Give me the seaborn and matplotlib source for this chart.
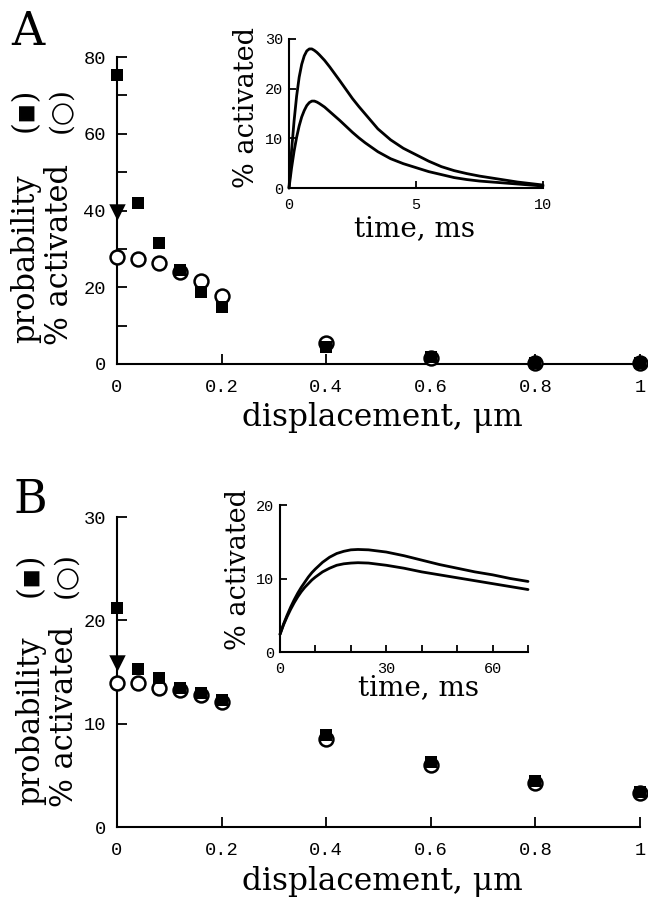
import matplotlib
matplotlib.use("Agg")
import matplotlib.pyplot as plt
import seaborn as sns

# ---------------------------
# Data
# ---------------------------
disp = [0, 0.04, 0.08, 0.12, 0.16, 0.2, 0.4, 0.6, 0.8, 1.0]

# panel A: probability (squares) and % activated (open circles)
prob_A = [75.3, 42.0, 31.5, 24.5, 18.8, 14.8, 4.5, 1.8, 0.3, 0.2]
act_A = [27.8, 27.4, 26.2, 24.0, 21.6, 17.7, 5.6, 1.5, 0.3, 0.2]
tri_A = [39.5]

# panel B
prob_B = [21.2, 15.3, 14.4, 13.5, 13.0, 12.3, 8.9, 6.3, 4.5, 3.4]
act_B = [13.9, 13.9, 13.5, 13.3, 12.8, 12.1, 8.5, 6.0, 4.3, 3.3]
tri_B = [15.9]
tri_x = [0]

# inset A: time course, ms
t_A = [0, 0.1, 0.2, 0.3, 0.4, 0.5, 0.6, 0.7, 0.8, 0.9, 1.0, 1.1, 1.2, 1.4, 1.6, 1.8,
       2.0, 2.25, 2.5, 2.75, 3.0, 3.5, 4.0, 4.5, 5.0, 5.5, 6.0, 6.5, 7.0, 7.5, 8.0,
       8.5, 9.0, 9.5, 10]
upper_A = [0, 7.5, 13.5, 18.5, 22.3, 24.9, 26.6, 27.6, 28.0, 28.0, 27.7, 27.3, 26.8,
           25.7, 24.4, 23.0, 21.6, 19.8, 18.0, 16.4, 14.9, 11.9, 9.7, 8.0, 6.7, 5.4,
           4.3, 3.5, 2.9, 2.4, 2.0, 1.6, 1.2, 0.9, 0.6]
lower_A = [0, 4.0, 7.4, 10.2, 12.5, 14.3, 15.6, 16.6, 17.2, 17.5, 17.5, 17.3, 17.0,
           16.3, 15.4, 14.5, 13.6, 12.4, 11.2, 10.1, 9.1, 7.3, 5.9, 4.9, 4.1, 3.3,
           2.7, 2.1, 1.7, 1.4, 1.2, 1.0, 0.8, 0.6, 0.4]

# inset B: time course, ms
t_B = [0, 1, 2, 3, 4, 5, 6, 7, 8, 9, 10, 12, 14, 16, 18, 20, 22, 25, 30, 35, 40,
       45, 50, 55, 60, 65, 70]
upper_B = [2.4, 3.8, 5.0, 6.1, 7.1, 8.0, 8.8, 9.5, 10.2, 10.8, 11.3, 12.2, 12.9,
           13.4, 13.7, 13.9, 13.95, 13.9, 13.6, 13.1, 12.5, 11.9, 11.4, 10.9, 10.5,
           10.0, 9.6]
lower_B = [2.4, 3.7, 4.8, 5.8, 6.7, 7.5, 8.2, 8.8, 9.3, 9.8, 10.2, 10.9, 11.4,
           11.8, 12.0, 12.1, 12.15, 12.1, 11.8, 11.4, 10.9, 10.5, 10.1, 9.7, 9.3,
           8.9, 8.5]

disp_ticks = [0, 0.2, 0.4, 0.6, 0.8, 1.0]
disp_labels = ["0", "0.2", "0.4", "0.6", "0.8", "1"]

# ---------------------------
# Style
# ---------------------------
sns.set_style("ticks")
plt.rcParams['font.family'] = ['Liberation Mono', 'DejaVu Sans Mono']
SERIF = ['DejaVu Serif', 'DejaVu Sans']

W, H = 648, 901
fig = plt.figure(figsize=(W / 100, H / 100), dpi=100)


def box(x0, y0, x1, y1):
    # pixel box -> figure fraction
    return [x0 / W, 1 - y1 / H, (x1 - x0) / W, (y1 - y0) / H]


def style_axes(ax, size, xpad, ypad):
    for s in ['top', 'right']:
        ax.spines[s].set_visible(False)
    for s in ['left', 'bottom']:
        ax.spines[s].set_linewidth(1.5)
        ax.spines[s].set_color('black')
    ax.tick_params(which='both', direction='in', length=7, width=1.3,
                   colors='black', labelsize=size)
    ax.tick_params(axis='x', pad=xpad)
    ax.tick_params(axis='y', pad=ypad)
    ax.set_xlabel("")
    ax.set_ylabel("")
    ax.set_facecolor('none')


def main_panel(rect, prob, act, tri, ylim, yticks, yminor):
    ax = fig.add_axes(rect)
    sns.scatterplot(x=disp, y=act, marker='o', s=100, color='white',
                    edgecolor='black', linewidth=1.8, ax=ax, clip_on=False, zorder=3)
    sns.scatterplot(x=disp, y=prob, marker='s', s=74, color='black',
                    edgecolor='black', linewidth=0, ax=ax, clip_on=False, zorder=4)
    sns.scatterplot(x=tri_x, y=tri, marker='v', s=140, color='black',
                    edgecolor='black', linewidth=0, ax=ax, clip_on=False, zorder=5)
    ax.set_xlim(0, 1)
    ax.set_ylim(*ylim)
    ax.set_xticks(disp_ticks)
    ax.set_xticklabels(disp_labels)
    ax.set_yticks(yticks)
    ax.set_yticks(yminor, minor=True)
    style_axes(ax, 13.5, 11, 8)
    return ax


def inset(rect, t, up, low, xlim, ylim, xticks, xminor, yticks):
    ax = fig.add_axes(rect)
    sns.lineplot(x=t, y=up, color='black', linewidth=2.0, ax=ax, clip_on=False)
    sns.lineplot(x=t, y=low, color='black', linewidth=2.0, ax=ax, clip_on=False)
    ax.set_xlim(*xlim)
    ax.set_ylim(*ylim)
    ax.set_xticks(xticks)
    ax.set_xticks(xminor, minor=True)
    ax.set_yticks(yticks)
    style_axes(ax, 11, 7, 4)
    ax.tick_params(which='both', length=5)
    return ax


# ---------------------------
# Panel A
# ---------------------------
main_panel(box(117, 57, 640, 364), prob_A, act_A, tri_A,
           (0, 80), [0, 20, 40, 60, 80], [10, 30, 50, 70])
inset(box(289, 39, 543, 188), t_A, upper_A, lower_A,
      (0, 10), (0, 30), [0, 5, 10], [], [0, 10, 20, 30])

# ---------------------------
# Panel B
# ---------------------------
main_panel(box(117, 517, 640, 827), prob_B, act_B, tri_B,
           (0, 30), [0, 10, 20, 30], [])
inset(box(280, 505, 528, 652), t_B, upper_B, lower_B,
      (0, 70), (0, 20), [0, 30, 60], [10, 20, 40, 50, 70], [0, 10, 20])


# ---------------------------
# Text labels
# ---------------------------
def ftext(x, y, s, size, **kw):
    fig.text(x / W, 1 - y / H, s, fontsize=size, family=SERIF, color='black', **kw)


for letter, lx, ly in [("A", 11, 45), ("B", 14, 513)]:
    ftext(lx, ly, letter, 33, ha='left', va='baseline')

for base_y in [426, 890]:
    ftext(382, base_y, "displacement, μm", 22.5, ha='center', va='baseline')

rot = dict(rotation=90, rotation_mode='anchor', va='baseline')

for x1, x2, y_bot, y_top in [(34, 68, 343, 88), (39, 73, 805, 553)]:
    ftext(x1, y_bot, "probability", 22, ha='left', **rot)
    ftext(x1, y_top, "(▪)", 22, ha='right', **rot)
    ftext(x2, y_bot + 2, "% activated", 22, ha='left', **rot)
    ftext(x2, y_top - 1, "(○)", 20, ha='right', **rot)

# inset labels
ftext(415, 236, "time, ms", 20, ha='center', va='baseline')
ftext(254, 108, "% activated", 19.5, ha='center', **rot)
ftext(418, 695, "time, ms", 20, ha='center', va='baseline')
ftext(246, 570, "% activated", 19.5, ha='center', **rot)

fig.savefig("out.png", dpi=100)
